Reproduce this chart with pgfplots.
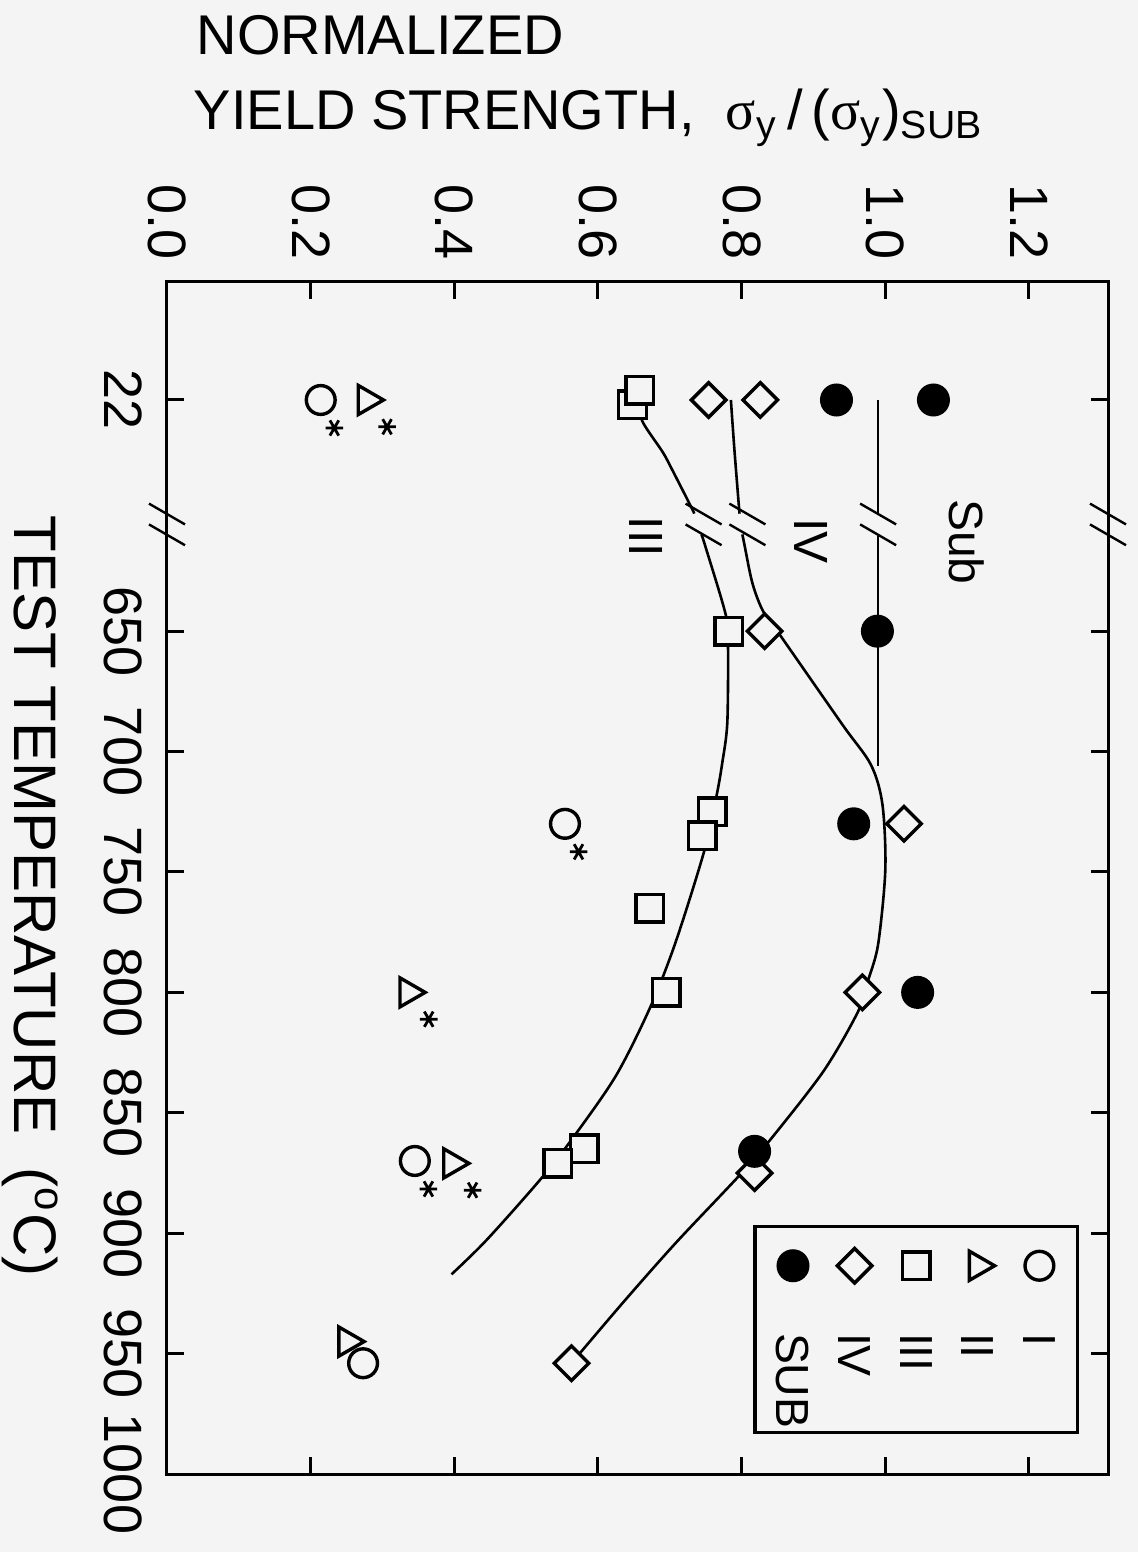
\documentclass[border=0pt]{standalone}
\usepackage{pgfplots}
\pgfplotsset{compat=1.18}
\usepackage{pgfplotstable}
\usepackage{fontspec}
\setmainfont{Liberation Sans}
\newfontfamily\grk{Liberation Serif}
\usetikzlibrary{calc}
\definecolor{bgc}{RGB}{244,244,244}

% markers (T pseudo-coordinate: 22 C plotted at 554, break at ~605)
\pgfplotstableread{
T v
554 0.932
554 1.067
650 0.989
730 0.956
800 1.045
866 0.818
}\subdat
\pgfplotstableread{
T v
554 0.754
554 0.826
650 0.832
730 1.026
800 0.968
875 0.818
954 0.563
}\ivdat
\pgfplotstableread{
T v
556 0.648
550 0.658
650 0.782
725 0.759
735 0.745
765 0.672
800 0.695
865 0.581
871 0.544
}\iiidat
\pgfplotstableread{
T v
554 0.278
800 0.336
871 0.397
945 0.251
}\iidat
\pgfplotstableread{
T v
554 0.214
730 0.554
870 0.345
954 0.273
}\idat
\pgfplotstableread{
T v
554 0.214
730 0.554
870 0.345
}\iast
\pgfplotstableread{
T v
554 0.278
800 0.336
871 0.397
}\iiast
% fitted curves
\pgfplotstableread{
T v
554 0.99
601.2 0.99
}\subA
\pgfplotstableread{
T v
609.8 0.99
706 0.99
}\subB
\pgfplotstableread{
T v
554 0.785
575 0.790
601.2 0.797
}\ivA
\pgfplotstableread{
T v
609.8 0.801
614.3 0.804
630.1 0.815
641.8 0.830
652.3 0.855
688.7 0.940
705.5 0.980
722 0.996
749 1.000
780 0.990
795 0.976
808 0.962
832.7 0.914
861.5 0.839
876.3 0.796
903.8 0.709
928.4 0.636
954 0.563
}\ivB
\pgfplotstableread{
T v
554 0.655
563 0.662
575.6 0.690
582.8 0.703
598.6 0.730
601.2 0.734
}\iiiA
\pgfplotstableread{
T v
609.8 0.744
615.3 0.750
643.4 0.778
656.1 0.781
688.1 0.780
704.7 0.773
718.4 0.765
741.2 0.748
779.2 0.708
806 0.673
834.1 0.626
858.4 0.570
876.9 0.522
902.8 0.445
917.1 0.396
}\iiiB

\newcommand{\brk}[2]{%
  \draw[line width=0.6pt] (axis cs:#1,#2) ++(-5.1pt,-4.5pt) -- ++(5.2pt,9pt);
  \draw[line width=0.6pt] (axis cs:#1,#2) ++(0.1pt,-4.5pt) -- ++(5.2pt,9pt);}

\begin{document}
\begin{tikzpicture}
\begin{scope}[rotate=-90, transform shape]
\fill[bgc] (-70.5pt,-41.75pt) rectangle (317.5pt,242.75pt);
\begin{axis}[
  scale only axis, width=298pt, height=235.25pt,
  xmin=505, xmax=1000, ymin=0, ymax=1.31,
  clip=false,
  axis line style={line width=0.75pt},
  every tick/.style={black, line width=0.75pt},
  major tick length=4.3pt,
  xtick={554,650,700,750,800,850,900,950,1000},
  xticklabels={22,650,700,750,800,850,900,950,1000},
  ytick={0,0.2,0.4,0.6,0.8,1.0,1.2},
  yticklabels={0.0,0.2,0.4,0.6,0.8,1.0,1.2},
  tick label style={font=\fontsize{13.5}{16}\selectfont, inner sep=0pt},
  xticklabel style={anchor=north, yshift=-6pt},
  yticklabel style={anchor=east, xshift=-5.5pt},
  legend image code/.code={\draw[#1] plot coordinates {(8.75pt,0pt)}; \path[draw=none,fill=none] (0pt,-5pt) rectangle (13pt,5pt);},
  legend cell align=left,
  legend style={at={(rel axis cs:1,1)}, anchor=north east, xshift=-10pt, yshift=-7.25pt,
    draw=black, line width=0.8pt, fill=bgc, font=\fontsize{11.6}{13}\selectfont,
    inner xsep=1pt, inner ysep=4.5pt, row sep=5.4pt, column sep=12.5pt,
    nodes={inner sep=0pt, text depth=0pt}},
]
\addlegendimage{only marks, mark=*, mark size=3.6pt, mark options={draw=black, fill=bgc, line width=0.85pt}}
\addlegendentry{I}
\addlegendimage{only marks, mark=triangle*, mark size=4.2pt, mark options={draw=black, fill=bgc, line width=0.85pt}}
\addlegendentry{II}
\addlegendimage{only marks, mark=square*, mark size=3.45pt, mark options={draw=black, fill=bgc, line width=0.85pt}}
\addlegendentry{III}
\addlegendimage{only marks, mark=square*, mark size=3.05pt, mark options={rotate=45, draw=black, fill=bgc, line width=0.85pt}}
\addlegendentry{IV}
\addlegendimage{only marks, mark=*, mark size=3.7pt, mark options={draw=black, fill=black, line width=0.85pt}}
\addlegendentry{SUB}

% curves
\addplot[black, line width=0.65pt, no marks, forget plot] table {\subA};
\addplot[black, line width=0.65pt, no marks, forget plot] table {\subB};
\addplot[black, line width=0.65pt, no marks, smooth, forget plot] table {\ivA};
\addplot[black, line width=0.65pt, no marks, smooth, forget plot] table {\ivB};
\addplot[black, line width=0.65pt, no marks, smooth, forget plot] table {\iiiA};
\addplot[black, line width=0.65pt, no marks, smooth, forget plot] table {\iiiB};

% markers
\addplot[forget plot, only marks, mark=triangle*, mark size=4.2pt, mark options={draw=black, fill=bgc, line width=0.85pt}] table {\iidat};
\addplot[forget plot, only marks, mark=*, mark size=3.6pt, mark options={draw=black, fill=bgc, line width=0.85pt}] table {\idat};
\addplot[forget plot, only marks, mark=square*, mark size=3.45pt, mark options={draw=black, fill=bgc, line width=0.85pt}] table {\iiidat};
\addplot[forget plot, only marks, mark=square*, mark size=3.05pt, mark options={rotate=45, draw=black, fill=bgc, line width=0.85pt}] table {\ivdat};
\addplot[forget plot, only marks, mark=*, mark size=3.7pt, mark options={draw=black, fill=black, line width=0.85pt}] table {\subdat};
% asterisks
\addplot[forget plot, only marks, mark=asterisk, mark size=2.2pt, mark options={xshift=7pt, yshift=3.4pt, line width=0.7pt}] table {\iast};
\addplot[forget plot, only marks, mark=asterisk, mark size=2.2pt, mark options={xshift=6.7pt, yshift=5.1pt, line width=0.7pt}] table {\iiast};

% axis / curve breaks
\brk{605.5}{0}
\brk{605.5}{1.31}
\brk{605.5}{0.99}
\brk{605.5}{0.808}
\brk{605.5}{0.747}

% curve labels
\node[font=\fontsize{12}{14}\selectfont] at (axis cs:612.9,1.113) {Sub};
\node[font=\fontsize{12}{14}\selectfont] at (axis cs:612.5,0.896) {IV};
\node[font=\fontsize{12}{14}\selectfont] at (axis cs:610.8,0.667) {III};

% axis labels
\node[rotate=90, anchor=base west, font=\fontsize{14}{17}\selectfont, inner sep=0pt]
  at ($(rel axis cs:0,0)+(-56.75pt,7.25pt)$) {NORMALIZED};
\node[rotate=90, anchor=base west, font=\fontsize{14}{17}\selectfont, inner sep=0pt]
  at ($(rel axis cs:0,0)+(-38pt,6.5pt)$) {YIELD STRENGTH,\ \ {\grk σ}\textsubscript{y}\,/\,({\grk σ}\textsubscript{y})\textsubscript{SUB}};
\node[anchor=base, font=\fontsize{15}{18}\selectfont, inner sep=0pt]
  at ($(axis cs:760,0)+(0pt,-38pt)$) {TEST TEMPERATURE\ \ (\textsuperscript{o}C)};
\end{axis}
\end{scope}
\end{tikzpicture}
\end{document}
